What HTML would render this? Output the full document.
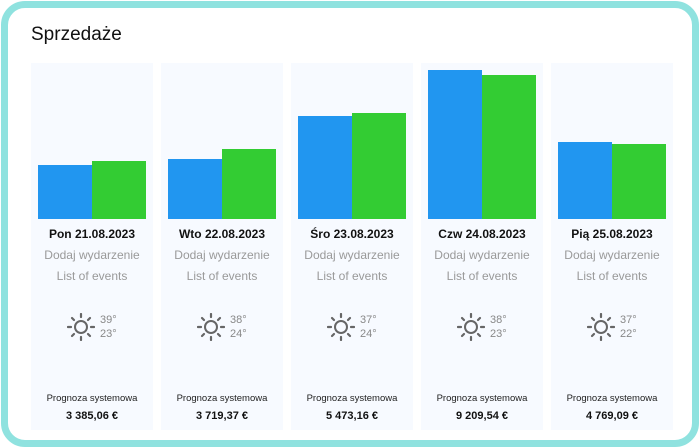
<!DOCTYPE html>
<html><head><style>
body{margin:0;width:700px;height:448px;background:#fff;font-family:"Liberation Sans",sans-serif;position:relative;overflow:hidden}
.frame{position:absolute;left:1px;top:1px;width:684px;height:432px;border:7px solid #8fe2df;border-radius:24px;background:#fff}
h1{position:absolute;left:31px;top:24px;margin:0;font-size:19px;font-weight:normal;color:#111}
.col{position:absolute;top:63px;width:122px;height:367px;background:#f7faff}
.b{position:absolute;bottom:211px;width:54px}
.bl{background:#2196f0}.gr{background:#33cc33}
.t{position:absolute;left:0;width:122px;text-align:center}
.d{top:164px;font-size:12px;font-weight:bold;color:#111}
.g{font-size:12px;color:#999}
.sun{position:absolute;left:36px;top:250px;width:28px;height:28px}
.tmp{position:absolute;left:69px;font-size:11px;color:#888}
.p{top:330px;font-size:9.5px;color:#222}
.v{top:347px;font-size:11px;font-weight:bold;color:#111}
</style></head><body>
<div class="frame"></div>
<h1>Sprzedaże</h1>
<script>
const data=[[31,"Pon 21.08.2023",165,161,"39","23","3 385,06 €"],[161,"Wto 22.08.2023",159,149,"38","24","3 719,37 €"],[291,"Śro 23.08.2023",116,113,"37","24","5 473,16 €"],[421,"Czw 24.08.2023",70,75,"38","23","9 209,54 €"],[551,"Pią 25.08.2023",142,144,"37","22","4 769,09 €"]];
const sun='<svg class="sun" viewBox="0 0 28 28"><circle cx="14" cy="14" r="6" fill="none" stroke="#666" stroke-width="2"/><g stroke="#666" stroke-width="2.2" stroke-linecap="round"><line x1="14" y1="1" x2="14" y2="4"/><line x1="14" y1="24" x2="14" y2="27"/><line x1="1" y1="14" x2="4" y2="14"/><line x1="24" y1="14" x2="27" y2="14"/><line x1="5" y1="5" x2="7" y2="7"/><line x1="21" y1="21" x2="23" y2="23"/><line x1="23" y1="5" x2="21" y2="7"/><line x1="5" y1="23" x2="7" y2="21"/></g></svg>';
for(const d of data){
 const top0=63, base=219;
 document.write(`<div class="col" style="left:${d[0]}px">
 <div class="b bl" style="left:7px;height:${base-d[2]}px"></div>
 <div class="b gr" style="left:61px;height:${base-d[3]}px"></div>
 <div class="t d">${d[1]}</div>
 <div class="t g" style="top:185px">Dodaj wydarzenie</div>
 <div class="t g" style="top:206px">List of events</div>
 ${sun}
 <div class="tmp" style="top:251px">${d[4]}°</div>
 <div class="tmp" style="top:265px">${d[5]}°</div>
 <div class="t p">Prognoza systemowa</div>
 <div class="t v">${d[6]}</div></div>`);
}
</script>
</body></html>
